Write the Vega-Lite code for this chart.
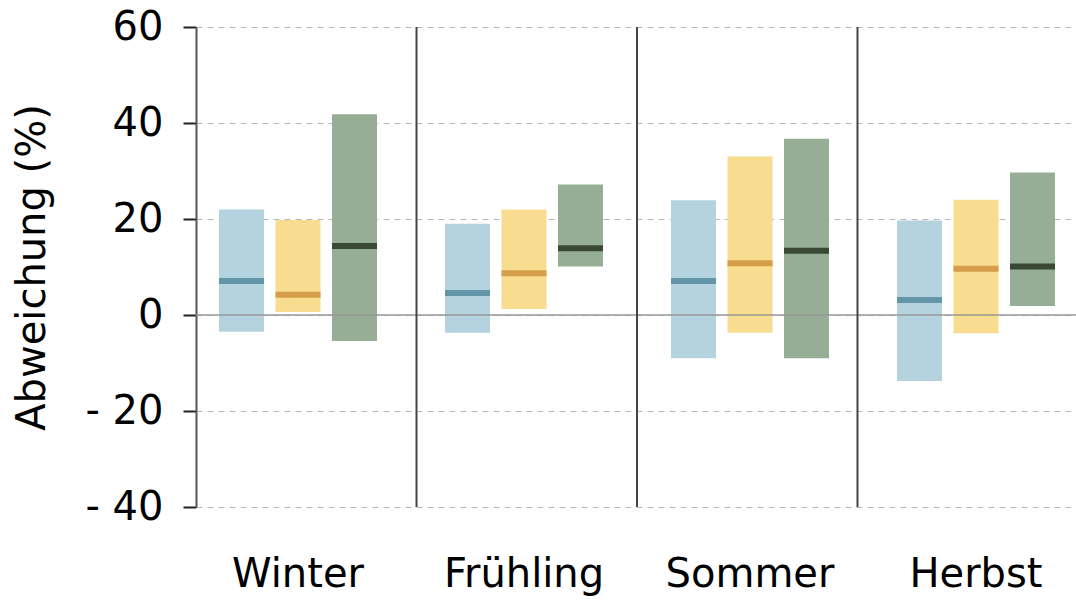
{
  "$schema": "https://vega.github.io/schema/vega-lite/v6.json",
  "width": 882,
  "height": 480,
  "autosize": {"type": "none"},
  "padding": {"left": 196, "top": 27, "right": 0, "bottom": 97},
  "background": "white",
  "config": {
    "font": "DejaVu Sans",
    "view": {"stroke": null}
  },
  "datasets": {
    "ranges": [
      {"season": "Winter", "scenario": "RCP2.6", "low": -3.5, "high": 22.0, "median": 7.1},
      {"season": "Winter", "scenario": "RCP4.5", "low": 0.6, "high": 19.8, "median": 4.2},
      {"season": "Winter", "scenario": "RCP8.5", "low": -5.4, "high": 41.8, "median": 14.4},
      {"season": "Frühling", "scenario": "RCP2.6", "low": -3.7, "high": 19.0, "median": 4.6},
      {"season": "Frühling", "scenario": "RCP4.5", "low": 1.25, "high": 22.0, "median": 8.7},
      {"season": "Frühling", "scenario": "RCP8.5", "low": 10.1, "high": 27.2, "median": 13.9},
      {"season": "Sommer", "scenario": "RCP2.6", "low": -9.0, "high": 23.9, "median": 7.1},
      {"season": "Sommer", "scenario": "RCP4.5", "low": -3.7, "high": 33.0, "median": 10.8},
      {"season": "Sommer", "scenario": "RCP8.5", "low": -9.0, "high": 36.7, "median": 13.4},
      {"season": "Herbst", "scenario": "RCP2.6", "low": -13.75, "high": 19.7, "median": 3.1},
      {"season": "Herbst", "scenario": "RCP4.5", "low": -3.8, "high": 24.0, "median": 9.65},
      {"season": "Herbst", "scenario": "RCP8.5", "low": 1.9, "high": 29.7, "median": 10.1}
    ],
    "separators": [
      {"season": "Frühling"},
      {"season": "Sommer"},
      {"season": "Herbst"}
    ]
  },
  "layer": [
    {
      "layer": [
        {
          "data": {"name": "ranges"},
          "mark": {"type": "bar", "width": 45},
          "encoding": {
            "x": {
              "field": "season",
              "type": "nominal",
              "sort": ["Winter", "Frühling", "Sommer", "Herbst"],
              "scale": {"domain": ["Winter", "Frühling", "Sommer", "Herbst"], "range": [-11, 893], "paddingInner": 0, "paddingOuter": 0},
              "axis": {
                "title": null,
                "ticks": false,
                "tickSize": 0,
                "domain": false,
                "labelAngle": 0,
                "labelFontSize": 40,
                "labelColor": "#000000",
                "labelPadding": 47,
                "labelFont": "DejaVu Sans"
              }
            },
            "xOffset": {
              "field": "scenario",
              "type": "nominal",
              "scale": {"domain": ["RCP2.6", "RCP4.5", "RCP8.5"], "paddingInner": 0.2035, "paddingOuter": 0.6018}
            },
            "y": {
              "field": "low",
              "type": "quantitative",
              "scale": {"domain": [-40, 60], "nice": false, "zero": false},
              "axis": {
                "title": "Abweichung (%)",
                "titleFontSize": 40,
                "titleFontWeight": "normal",
                "titleColor": "#000000",
                "titleFont": "DejaVu Sans",
                "titlePadding": 32,
                "values": [-40, -20, 0, 20, 40, 60],
                "labelExpr": "datum.value < 0 ? '- ' + abs(datum.value) : datum.label",
                "labelFontSize": 40,
                "labelColor": "#000000",
                "labelFont": "DejaVu Sans",
                "labelPadding": 20,
                "tickSize": 13,
                "tickWidth": 2,
                "tickColor": "#222222",
                "domainColor": "#555555",
                "domainWidth": 2,
                "grid": true,
                "gridColor": "#b8b8b8",
                "gridDash": [6, 5],
                "gridWidth": 1.2
              }
            },
            "y2": {"field": "high"},
            "color": {
              "field": "scenario",
              "type": "nominal",
              "scale": {"domain": ["RCP2.6", "RCP4.5", "RCP8.5"], "range": ["#b5d3df", "#f8dc8f", "#96ae95"]},
              "legend": null
            }
          }
        },
        {
          "data": {"name": "ranges"},
          "mark": {"type": "tick", "thickness": 6, "size": 45, "opacity": 1},
          "encoding": {
            "x": {"field": "season", "type": "nominal", "sort": ["Winter", "Frühling", "Sommer", "Herbst"]},
            "xOffset": {"field": "scenario", "type": "nominal"},
            "y": {"field": "median", "type": "quantitative"},
            "color": {
              "field": "scenario",
              "type": "nominal",
              "scale": {"domain": ["RCP2.6", "RCP4.5", "RCP8.5"], "range": ["#6496aa", "#d49e4a", "#394933"]},
              "legend": null
            }
          }
        }
      ],
      "resolve": {"scale": {"color": "independent"}}
    },
    {
      "data": {"values": [{}]},
      "mark": {"type": "rule", "color": "#999999", "strokeWidth": 1.5},
      "encoding": {"y": {"datum": 0}}
    },
    {
      "data": {"name": "separators"},
      "mark": {"type": "rule", "color": "#444444", "strokeWidth": 2},
      "encoding": {
        "x": {
          "field": "season",
          "type": "nominal",
          "bandPosition": 0,
          "scale": {"domain": ["Winter", "Frühling", "Sommer", "Herbst"], "paddingInner": 0, "paddingOuter": 0},
          "axis": null
        }
      }
    }
  ],
  "resolve": {"scale": {"x": "independent", "color": "independent"}}
}
